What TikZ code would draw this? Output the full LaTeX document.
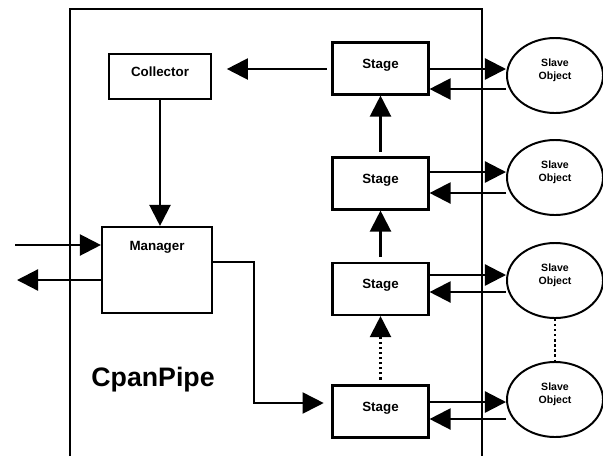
\documentclass[tikz,border=0pt]{standalone}
\usepackage{fontspec}
\setmainfont{Liberation Sans}
\usetikzlibrary{arrows.meta,positioning,shapes.geometric}

\begin{document}
\begin{tikzpicture} [
    x=0.025cm, y=-0.025cm,
    block/.style={draw, line width=1.5pt, rectangle, minimum width=2.4cm, minimum height=1.3cm, text depth=7pt, font=\fontsize{9.5}{11}\selectfont\bfseries},
    slave/.style={draw, line width=1.4pt, ellipse, minimum width=2.4cm, minimum height=1.875cm, inner sep=0pt, align=center, text depth=9pt, font=\fontsize{7.5}{9}\selectfont\bfseries},
    flow/.style={line width=1.6pt, -{Triangle[length=15pt, width=15pt]}}
  ]

\useasboundingbox (0,0) rectangle (603,456);

% the pipe itself, open at the bottom
\draw[line width=1.7pt] (70,456) |- (482,9) -- (482,456);

\node[block, minimum width=2.55cm, minimum height=1.125cm] (collector) at (160,76.5) {Collector};
\node[block, minimum width=2.75cm, minimum height=2.15cm, text depth=0pt,
      label={[anchor=north, inner sep=0pt, yshift=-10.5pt, font=\fontsize{9.5}{11}\selectfont\bfseries]north:Manager}] (manager) at (157,270) {};

\node[block] (stage1) at (380.5,68.5) {Stage};
\node[block] (stage2) at (380.5,183.5) {Stage};
\node[block] (stage3) at (380.5,289) {Stage};
\node[block] (stage4) at (380.5,411.5) {Stage};

\node[slave] (slave1) at (555,75.5) {Slave\\Object};
\node[slave] (slave2) at (555,177.5) {Slave\\Object};
\node[slave] (slave3) at (555,280.5) {Slave\\Object};
\node[slave] (slave4) at (555,399.5) {Slave\\Object};

\node[font=\fontsize{19}{22}\selectfont\bfseries] (title) at (153,380) {CpanPipe};

\coordinate (in) at (15,245);
\coordinate (out) at (17,280);

% manager and collector
\draw[flow, shorten <=3.5pt, shorten >=10.5pt] (stage1.west |- 0,69) -- (collector.east |- 0,69);
\draw[flow] (collector.south) -- (collector.south |- manager.north);
\draw[flow] (in) -- (manager.west |- in);
\draw[flow] (manager.west |- out) -- (out);
\draw[flow, line width=1.2pt, shorten >=5.5pt] (manager.east |- 0,262) -| (254,403) -- (stage4.west |- 0,403);

% stages
\draw[flow, shorten <=3.5pt] (stage2.north) -- (stage1.south);
\draw[flow, shorten <=3.5pt] (stage3.north) -- (stage2.south);
\draw[flow, dotted, shorten <=3.5pt] (stage4.north) -- (stage3.south);

\foreach \i/\yo/\yb in {1/69/89, 2/172/193, 3/275/292, 4/402/419} {
  \draw[flow] (stage\i.east |- 0,\yo) -- (slave\i.west |- 0,\yo);
  \draw[flow] (slave\i.west |- 0,\yb) -- (stage\i.east |- 0,\yb);
}

\draw[line width=1.6pt, dotted] (slave3.south) -- (slave4.north);

\end{tikzpicture}
\end{document}
